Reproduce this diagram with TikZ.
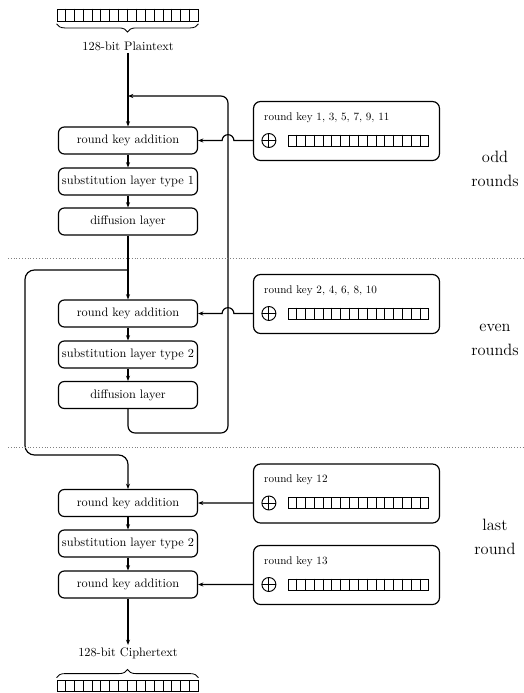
\documentclass[tikz,border=0pt]{standalone}
\usetikzlibrary{arrows.meta,calc,decorations.pathreplacing}
\tikzset{
  stage/.style={draw,line width=1pt,rounded corners=5pt,minimum width=4.17cm,minimum height=0.81cm,inner sep=1pt,font=\fontsize{10.5}{12}\selectfont},
  keybox/.style={draw,line width=1pt,rounded corners=6pt,minimum width=5.58cm,minimum height=1.77cm},
  keylabel/.style={anchor=west,inner sep=0pt,font=\fontsize{9.5}{11}\selectfont},
  regbox/.style={draw,line width=0.8pt,minimum width=4.2cm,minimum height=0.33cm,inner sep=0pt},
  xorsym/.style={circle,draw,line width=0.8pt,minimum size=0.42cm,inner sep=0pt,
    path picture={\draw[line width=0.8pt] (path picture bounding box.north) -- (path picture bounding box.south)
      (path picture bounding box.west) -- (path picture bounding box.east);}},
  arr/.style={line width=1pt,-{Stealth[length=4.5pt,width=3.5pt]}},
  sep/.style={gray,line width=0.8pt,dash pattern=on 0.8pt off 1.6pt},
  roundlbl/.style={align=center,font=\fontsize{14}{20}\selectfont},
  iolbl/.style={font=\fontsize{10.5}{12}\selectfont,inner sep=2pt},
  bitbrace/.style={decorate,decoration={brace,amplitude=7pt},line width=0.7pt}
}
\begin{document}
\begin{tikzpicture}[x=0.03cm,y=-0.03cm]
    \useasboundingbox (0,0) rectangle (523,693);
    % plaintext
    \node[regbox,minimum width=4.23cm,minimum height=0.36cm] (ptreg) at (127.5,15) {};
    \draw[bitbrace] ([yshift=-2pt]ptreg.south east) -- ([yshift=-2pt]ptreg.south west);
    \node[iolbl] (pt) at (128,46) {128-bit Plaintext};

    % stages
    \node[stage] (rka1) at (128,140.5) {round key addition};
    \node[stage] (sl1) at (128,181.5) {substitution layer type 1};
    \node[stage] (dl1) at (128,221.5) {diffusion layer};
    \node[stage] (rka2) at (128,313.5) {round key addition};
    \node[stage] (sl2) at (128,354.5) {substitution layer type 2};
    \node[stage] (dl2) at (128,395) {diffusion layer};
    \node[stage] (rka3) at (128,503) {round key addition};
    \node[stage] (sl3) at (128,543.5) {substitution layer type 2};
    \node[stage] (rka4) at (128,584.5) {round key addition};

    % ciphertext
    \node[iolbl] (ct) at (128,653) {128-bit Ciphertext};
    \node[regbox,minimum width=4.23cm] (ctreg) at (127.5,686) {};
    \draw[bitbrace] ([yshift=2pt]ctreg.north west) -- ([yshift=2pt]ctreg.north east);

    % round keys
    \foreach \k/\y/\t in {1/131/{round key 1, 3, 5, 7, 9, 11},2/304/{round key 2, 4, 6, 8, 10},
        3/493.5/{round key 12},4/575/{round key 13}} {
        \node[keybox] (k\k) at (346.5,\y) {};
        \node[keylabel] (kl\k) at ([xshift=0.33cm,yshift=-0.5cm]k\k.north west) {\t};
        \node[xorsym] (xo\k) at ([xshift=0.48cm,yshift=-0.285cm]k\k.west) {};
        \node[regbox,anchor=west] (kr\k) at ([xshift=0.57cm]xo\k.center) {};
    }
    \foreach \r in {ptreg,ctreg,kr1,kr2,kr3,kr4}
        \foreach \i in {1,...,15}
            \draw[line width=0.8pt] ($(\r.north west)!\i/16!(\r.north east)$) -- ($(\r.south west)!\i/16!(\r.south east)$);

    \coordinate (merge) at (128,96);
    \coordinate (loopr) at (228,433);
    \coordinate (split) at (128,270);
    \coordinate (bypass) at (25,455);
    \coordinate (jmp1) at (loopr |- rka1);
    \coordinate (jmp2) at (loopr |- rka2);

    \draw[arr] (pt.south) -- (rka1.north);
    \draw[arr] (rka1) -- (sl1);
    \draw[arr] (sl1) -- (dl1);
    \draw[arr] (dl1) -- (rka2);
    \draw[arr] (rka2) -- (sl2);
    \draw[arr] (sl2) -- (dl2);
    \draw[arr,rounded corners=6pt] (dl2.south) |- (loopr) |- (merge);
    \draw[arr,rounded corners=8pt] (split) -| (bypass) -| (rka3.north);
    \draw[arr] (rka3) -- (sl3);
    \draw[arr] (sl3) -- (rka4);
    \draw[arr] (rka4) -- (ct);

    \draw[arr] (k1.west |- xo1) -- ([xshift=5pt]jmp1) arc[start angle=0,end angle=180,radius=5pt] -- (rka1.east);
    \draw[arr] (k2.west |- xo2) -- ([xshift=5pt]jmp2) arc[start angle=0,end angle=180,radius=5pt] -- (rka2.east);
    \draw[arr] (k3.west |- xo3) -- (rka3.east);
    \draw[arr] (k4.west |- xo4) -- (rka4.east);

    \draw[sep] (8,258) -- (523,258);
    \draw[sep] (8,447) -- (523,447);

    \node[roundlbl] (oddlbl) at (495,169) {odd\\rounds};
    \node[roundlbl] (evenlbl) at (495,340) {even\\rounds};
    \node[roundlbl] (lastlbl) at (495,537) {last\\round};
\end{tikzpicture}
\end{document}
